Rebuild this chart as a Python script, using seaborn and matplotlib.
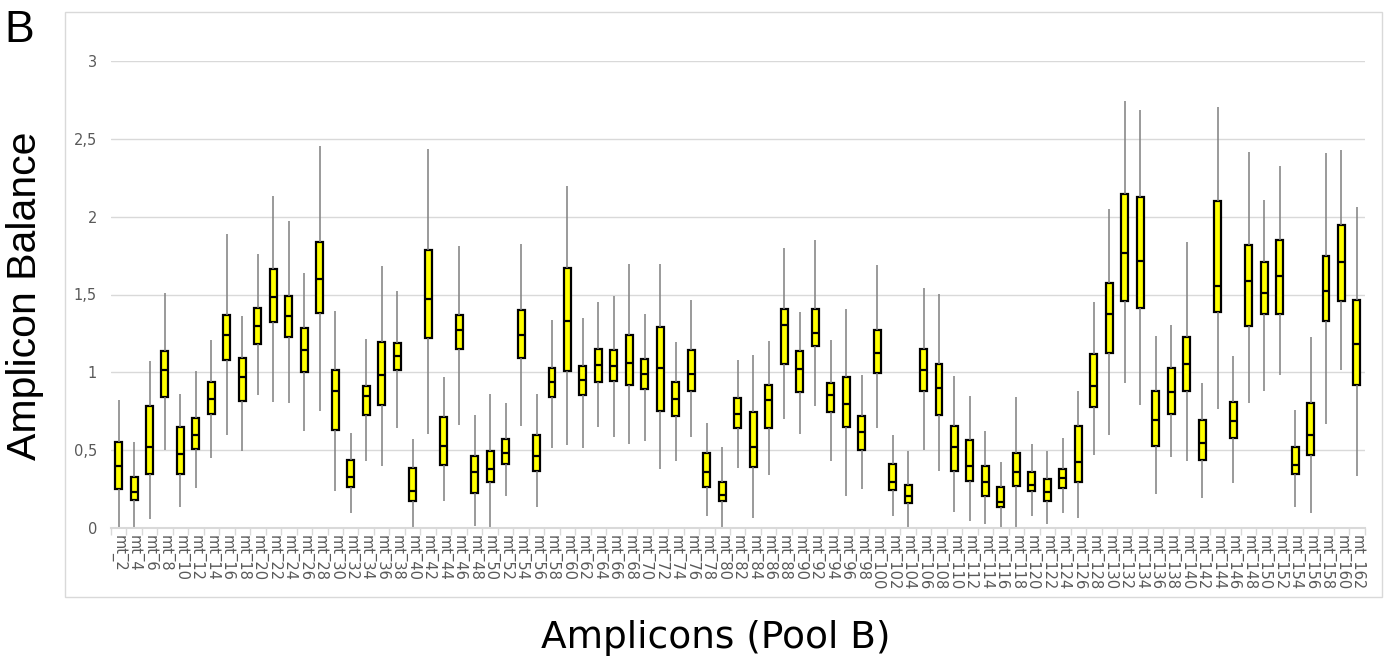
import numpy as np
import pandas as pd
import matplotlib
matplotlib.use("Agg")
import matplotlib.pyplot as plt
from matplotlib.patches import Rectangle
from matplotlib.ticker import FixedLocator
import seaborn as sns

# Amplicon names (pool B: even-numbered mitochondrial amplicons)
amplicons = [f"mt_{n}" for n in range(2, 163, 2)]

# Five-number summaries of amplicon balance per amplicon
whisker_low = [0.00, 0.00, 0.055, 0.50, 0.133, 0.256, 0.447, 0.595, 0.497, 0.854,
               0.811, 0.801, 0.62, 0.749, 0.24, 0.098, 0.433, 0.396, 0.641, 0.00,
               0.605, 0.172, 0.662, 0.014, 0.00, 0.204, 0.653, 0.133, 0.511, 0.531,
               0.515, 0.648, 0.584, 0.54, 0.559, 0.376, 0.433, 0.582, 0.076, 0.00,
               0.385, 0.064, 0.343, 0.70, 0.605, 0.783, 0.428, 0.208, 0.25, 0.643,
               0.076, 0.00, 0.499, 0.366, 0.103, 0.048, 0.023, 0.00, 0.00, 0.076,
               0.023, 0.096, 0.062, 0.472, 0.595, 0.932, 0.792, 0.218, 0.453, 0.433,
               0.192, 0.767, 0.286, 0.806, 0.877, 0.985, 0.135, 0.098, 0.671, 1.017,
               0.332]
quartile_1 = [0.25, 0.18, 0.35, 0.84, 0.35, 0.51, 0.733, 1.079, 0.813, 1.179,
              1.324, 1.225, 1.003, 1.378, 0.632, 0.266, 0.726, 0.79, 1.014, 0.172,
              1.223, 0.403, 1.147, 0.227, 0.293, 0.41, 1.095, 0.366, 0.84, 1.008,
              0.852, 0.939, 0.946, 0.92, 0.893, 0.753, 0.719, 0.882, 0.263, 0.172,
              0.643, 0.394, 0.643, 1.053, 0.875, 1.168, 0.744, 0.65, 0.504, 0.998,
              0.243, 0.163, 0.882, 0.728, 0.369, 0.305, 0.208, 0.137, 0.268, 0.238,
              0.176, 0.256, 0.298, 0.779, 1.127, 1.459, 1.413, 0.527, 0.733, 0.882,
              0.435, 1.385, 0.577, 1.298, 1.372, 1.372, 0.35, 0.467, 1.33, 1.459,
              0.921]
medians = [0.40, 0.23, 0.52, 1.014, 0.476, 0.598, 0.831, 1.241, 0.969, 1.298,
           1.486, 1.362, 1.143, 1.60, 0.882, 0.325, 0.845, 0.98, 1.106, 0.238,
           1.472, 0.524, 1.273, 0.362, 0.376, 0.481, 1.237, 0.465, 0.939, 1.33,
           0.948, 1.044, 1.04, 1.062, 0.987, 1.03, 0.829, 0.987, 0.357, 0.215,
           0.73, 0.52, 0.82, 1.305, 1.021, 1.25, 0.854, 0.799, 0.618, 1.122,
           0.298, 0.204, 1.012, 0.898, 0.52, 0.398, 0.295, 0.169, 0.362, 0.279,
           0.229, 0.318, 0.421, 0.911, 1.374, 1.768, 1.713, 0.694, 0.875, 1.053,
           0.547, 1.557, 0.689, 1.587, 1.509, 1.621, 0.403, 0.595, 1.52, 1.706,
           1.179]
quartile_3 = [0.55, 0.33, 0.785, 1.14, 0.646, 0.708, 0.937, 1.367, 1.09, 1.413,
              1.662, 1.488, 1.282, 1.839, 1.014, 0.44, 0.911, 1.198, 1.191, 0.387,
              1.784, 0.714, 1.369, 0.465, 0.495, 0.572, 1.401, 0.60, 1.026, 1.672,
              1.042, 1.15, 1.143, 1.243, 1.083, 1.289, 0.941, 1.145, 0.485, 0.295,
              0.834, 0.746, 0.916, 1.408, 1.136, 1.408, 0.934, 0.973, 0.721, 1.275,
              0.412, 0.275, 1.15, 1.056, 0.653, 0.563, 0.398, 0.263, 0.485, 0.36,
              0.316, 0.378, 0.655, 1.117, 1.575, 2.146, 2.127, 0.877, 1.026, 1.23,
              0.696, 2.10, 0.808, 1.818, 1.706, 1.85, 0.518, 0.806, 1.749, 1.944,
              1.466]
whisker_high = [0.82, 0.55, 1.07, 1.507, 0.863, 1.01, 1.207, 1.887, 1.365, 1.759,
                2.13, 1.969, 1.64, 2.455, 1.397, 0.609, 1.211, 1.681, 1.525, 0.57,
                2.432, 0.971, 1.809, 0.724, 0.863, 0.806, 1.825, 0.863, 1.333, 2.198,
                1.351, 1.45, 1.488, 1.699, 1.376, 1.699, 1.193, 1.463, 0.673, 0.52,
                1.081, 1.113, 1.20, 1.80, 1.385, 1.85, 1.207, 1.406, 0.985, 1.692,
                0.60, 0.492, 1.541, 1.502, 0.975, 0.847, 0.625, 0.426, 0.843, 0.538,
                0.492, 0.579, 0.877, 1.454, 2.049, 2.743, 2.686, 1.234, 1.305, 1.839,
                0.934, 2.707, 1.104, 2.414, 2.109, 2.324, 0.76, 1.225, 2.411, 2.43,
                2.059]

y_ticks = [0, 0.5, 1, 1.5, 2, 2.5, 3]
y_tick_labels = ["0", "0,5", "1", "1,5", "2", "2,5", "3"]

# Long-form table: five summary points per amplicon give exact quartiles,
# and whiskers spanning 0-100 % reach the min/max values.
records = []
for i, name in enumerate(amplicons):
    for v in (whisker_low[i], quartile_1[i], medians[i], quartile_3[i], whisker_high[i]):
        records.append({"amplicon": name, "balance": v})
df = pd.DataFrame.from_records(records)

sns.set_theme(style="white")
plt.rcParams["font.family"] = ["DejaVu Sans"]

W, H = 1392, 666
fig = plt.figure(figsize=(W / 100, H / 100), dpi=100)
ax = fig.add_axes([110.8 / W, 1 - 528 / H, (1364.7 - 110.8) / W, (528 - 61) / H])

sns.boxplot(
    data=df, x="amplicon", y="balance", order=amplicons, ax=ax,
    whis=(0, 100), width=0.45, color="#FFFF00", saturation=1,
    linecolor="black", linewidth=1.5, showcaps=False, fliersize=0,
    boxprops=dict(edgecolor="black", linewidth=1.6),
    medianprops=dict(color="black", linewidth=1.6),
    whiskerprops=dict(color="#7f7f7f", linewidth=1.1),
)

ax.set_xlim(-0.5, len(amplicons) - 0.5)
ax.set_ylim(0, 3)
ax.set_xlabel("")
ax.set_ylabel("")

# Horizontal gridlines and axis styling
ax.set_yticks(y_ticks)
ax.set_yticklabels(y_tick_labels, fontsize=10.5, color="#595959")
ax.yaxis.grid(True, color="#d9d9d9", linewidth=1)
ax.set_axisbelow(True)
for side in ("left", "right", "top"):
    ax.spines[side].set_visible(False)
ax.spines["bottom"].set_color("#d9d9d9")
ax.spines["bottom"].set_linewidth(1.5)
ax.tick_params(axis="y", length=0, pad=10)

ax.set_xticks(range(len(amplicons)))
ax.set_xticklabels(amplicons, rotation=-90, fontsize=10.5, color="#595959")
ax.tick_params(axis="x", which="major", length=0, pad=5)
ax.xaxis.set_minor_locator(FixedLocator(np.arange(-0.5, len(amplicons), 1.0)))
ax.tick_params(axis="x", which="minor", length=5, width=1, color="#d9d9d9",
               direction="out", bottom=True)

# Chart-area frame
fig.patches.append(Rectangle((65 / W, 1 - 597 / H), (1382 - 65) / W, (597 - 12) / H,
                             transform=fig.transFigure, fill=False,
                             edgecolor="#d9d9d9", linewidth=1))

fig.text(25 / W, 1 - 296 / H, "Amplicon Balance", rotation=90, fontsize=29.5,
         family="Liberation Sans", ha="center", va="center", color="black")
fig.text(716 / W, 1 - 638 / H, "Amplicons (Pool B)", fontsize=27,
         family="DejaVu Sans", ha="center", va="center", color="black")
fig.text(19 / W, 1 - 31 / H, "B", fontsize=32, family="Liberation Sans",
         ha="center", va="center", color="black")

fig.savefig("out.png", dpi=100, facecolor="white")
